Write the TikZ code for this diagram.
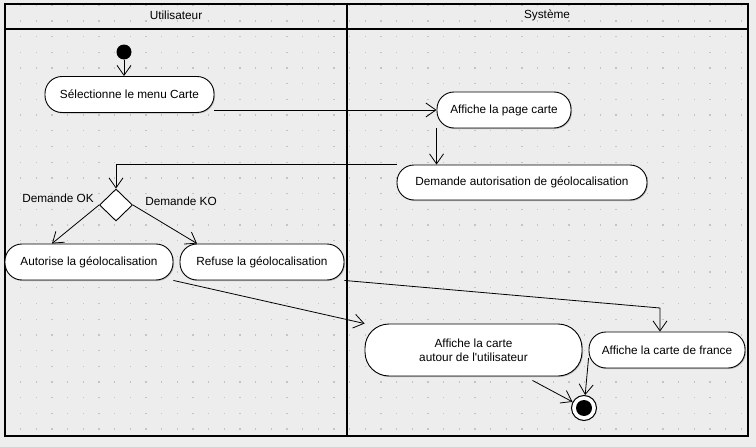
\documentclass[tikz,border=0pt]{standalone}
\usepackage{fontspec}
\setmainfont{Liberation Sans}
\usepackage{xcolor}
\usepackage{tikz}
\usetikzlibrary{arrows.meta,positioning,shapes.geometric,shadows}
\definecolor{paper}{HTML}{EDEDED}
\definecolor{griddot}{HTML}{C4C4C4}

\begin{document}
\begin{tikzpicture}[
    x=1pt, y=-1pt,
    font=\fontsize{11.8}{14}\selectfont,
    act/.style={draw, fill=white, rounded corners=17pt, line width=0.9pt, minimum height=36pt, inner sep=0pt, align=center, drop shadow={shadow xshift=1pt, shadow yshift=-1pt, fill=black!45}},
    arr/.style={-{Straight Barb[length=10pt,width=14pt]}, line width=0.8pt},
    lane/.style={line width=1.6pt}
]
\useasboundingbox[fill=paper] (0,0) rectangle (756,447);
\foreach \i in {0,...,47}
  \foreach \j in {0,...,27}
    \fill[griddot] (4.5+15.66*\i,4.5+15.7*\j) rectangle +(1.3,1.3);

\draw[lane] (5,4) rectangle (748,436);
\draw[line width=1.2pt] (5,29) -- (748,29);
\draw[line width=1.2pt] (347,4) -- (347,436);
\node (user) at (176,15) {Utilisateur};
\node (sys) at (547,15) {Système};

\node[circle, fill=black, minimum size=15pt, inner sep=0pt] (init) at (124,52) {};
\node[act, minimum width=169pt] (sel) at (129.5,94.5) {Sélectionne le menu Carte};
\node[act, minimum width=134pt] (page) at (504,110) {Affiche la page carte};
\node[act, minimum width=250pt, minimum height=35pt] (dem) at (522,182.5) {Demande autorisation de géolocalisation};
\node[diamond, draw, fill=white, line width=0.9pt, minimum width=33pt, minimum height=32pt, inner sep=0pt] (dec) at (116,205) {};
\node[act, minimum width=168pt] (aut) at (89,262) {Autorise la géolocalisation};
\node[act, minimum width=164pt] (ref) at (262,262) {Refuse la géolocalisation};
\node[act, minimum width=217pt, minimum height=52pt, rounded corners=24pt] (autour) at (473.5,350) {Affiche la carte\\autour de l\textquotesingle utilisateur};
\node[act, minimum width=156pt] (fr) at (667,350) {Affiche la carte de france};
\node[circle, draw, fill=white, line width=1pt, minimum size=25pt, inner sep=0pt] (fin) at (584,408) {};
\fill (fin.center) circle (8pt);

\node (ok) at (58,198) {Demande OK};
\node (ko) at (181,201) {Demande KO};
\coordinate (bend) at (660,308);

\draw[arr] (init) -- (init |- sel.north);
\draw[arr] (sel.east |- page.west) -- (page.west);
\draw[arr] (page.south west) -- (page.south west |- dem.north);
\draw[arr] (dem.north west) -| (dec.north);
\draw[arr] (dec.west) -- ([xshift=-37pt]aut.north);
\draw[arr] (dec.east) -- ([xshift=-65pt]ref.north);
\draw[arr] (aut.south east) -- (autour.north west);
\draw[arr] (ref.south east) -- (bend) -- (bend |- fr.north);
\draw[arr] ([xshift=59pt,yshift=-4pt]autour.south) -- (fin);
\draw[arr] ([yshift=-8pt]fr.west) -- (fin);
\end{tikzpicture}
\end{document}
